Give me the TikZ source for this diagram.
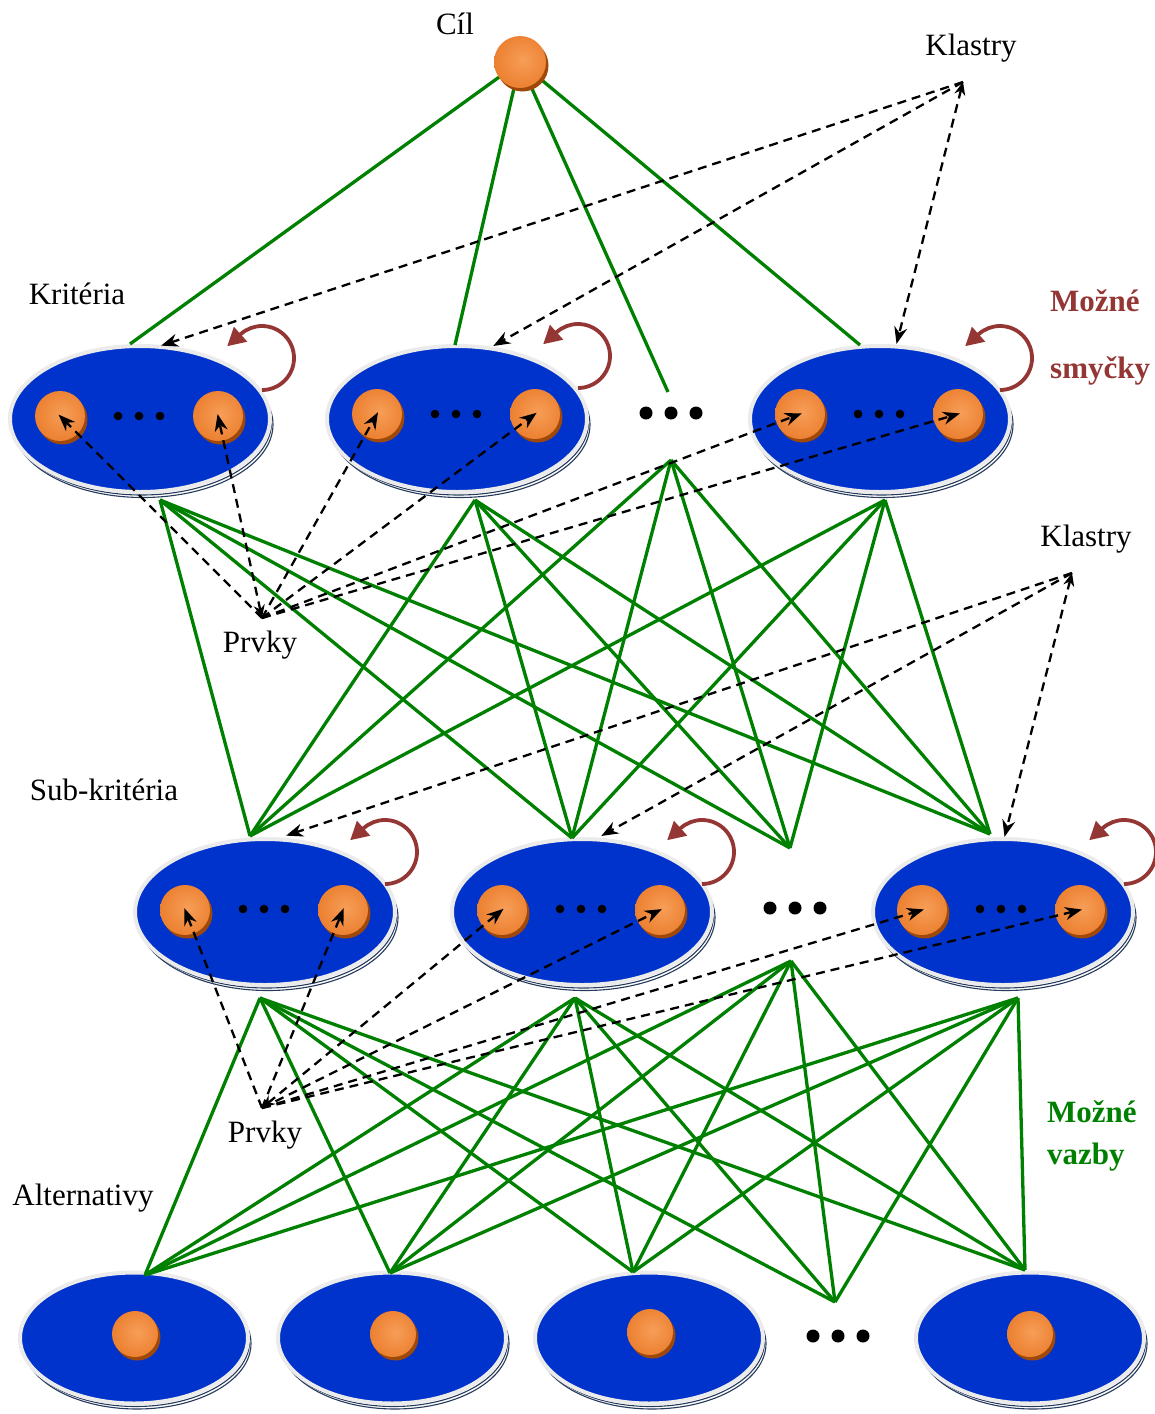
\documentclass[tikz,border=0pt]{standalone}
\usepackage{fontspec}
\setmainfont{Liberation Serif}
\usetikzlibrary{arrows.meta,shapes.geometric,shadows}

\definecolor{platblue}{RGB}{0,51,204}
\definecolor{rimshade}{RGB}{38,58,92}
\definecolor{linkgreen}{RGB}{0,128,0}
\definecolor{loopbrown}{RGB}{148,54,52}
\definecolor{orbin}{RGB}{247,158,88}
\definecolor{orbout}{RGB}{228,108,22}
\definecolor{orbdark}{RGB}{158,72,10}

\pgfdeclareradialshading{orbshade}{\pgfpoint{3bp}{2bp}}{%
  color(0bp)=(orbin); color(20bp)=(orbin!55!orbout); color(46bp)=(orbout); color(100bp)=(orbout)}

\tikzset{
  platter/.style={ellipse, inner sep=0pt, fill=platblue, draw=white!92!black, line width=4pt,
    copy shadow={shadow xshift=3pt, shadow yshift=-5.5pt, fill=white, draw=rimshade, line width=1.1pt},
    copy shadow={shadow xshift=1.6pt, shadow yshift=-3pt, fill=white, draw=rimshade, line width=1.1pt}},
  bigplat/.style={platter, minimum width=260pt, minimum height=146pt},
  smallplat/.style={platter, minimum width=228pt, minimum height=131pt},
  orbnode/.style={circle, inner sep=0pt, minimum size=#1, shade, shading=orbshade,
    copy shadow={shadow xshift=2.5pt, shadow yshift=-3.5pt, fill=orbdark, draw=none}},
  vazba/.style={draw=linkgreen, line width=3.3pt},
  dashref/.style={draw=black, line width=2.3pt, dash pattern=on 9pt off 6pt,
    -{Stealth[length=17pt,width=13pt]}, shorten >=-2pt},
  bothref/.style={dashref, {Stealth[length=13pt,width=11pt]}-{Stealth[length=17pt,width=13pt]}},
  selfloop/.style={draw=loopbrown, line width=3.8pt, -{Triangle[length=18pt,width=19pt]}},
  lbl/.style={inner sep=0pt, font=\fontsize{31}{36}\selectfont},
  hint/.style={inner sep=0pt, anchor=west, font=\fontsize{31}{36}\selectfont\bfseries},
}

\begin{document}
\begin{tikzpicture}[x=1pt, y=-1pt]
\useasboundingbox (0,0) rectangle (1155,1414);
\fill[white] (0,0) rectangle (1155,1414);

% ---- cluster platters ----
\node[bigplat] (k1) at (140,419) {};
\node[bigplat] (k2) at (457,419) {};
\node[bigplat] (k3) at (880,419) {};
\node[bigplat] (s1) at (265,912) {};
\node[bigplat] (s2) at (582,912) {};
\node[bigplat] (s3) at (1003,912) {};
\node[smallplat] (a1) at (134,1338) {};
\node[smallplat] (a2) at (392,1338) {};
\node[smallplat] (a3) at (649,1338) {};
\node[smallplat] (a4) at (1030,1338) {};

% ---- link end points ----
\coordinate (gc) at (520,62);
\coordinate (k1t) at (130,344);
\coordinate (k2t) at (455,345);
\coordinate (kdt) at (668,392);
\coordinate (k3t) at (860,345);

\coordinate (k1b) at (160,500);
\coordinate (k2b) at (475,500);
\coordinate (kdb) at (671,460);
\coordinate (k3b) at (885,500);
\coordinate (s1t) at (250,836);
\coordinate (s2t) at (572,838);
\coordinate (sdt) at (790,848);
\coordinate (s3t) at (990,834);

\coordinate (s1b) at (260,998);
\coordinate (s2b) at (575,998);
\coordinate (sdb) at (791,961);
\coordinate (s3b) at (1018,998);
\coordinate (a1t) at (145,1275);
\coordinate (a2t) at (390,1273);
\coordinate (a3t) at (633,1272);
\coordinate (adt) at (835,1302);
\coordinate (a4t) at (1025,1270);

% ---- green links ----
\foreach \t in {k1t,k2t,kdt,k3t} \draw[vazba] (gc) -- (\t);
\foreach \a in {k1b,k2b,kdb,k3b}
  \foreach \b in {s1t,s2t,sdt,s3t} \draw[vazba] (\a) -- (\b);
\foreach \a in {s1b,s2b,sdb,s3b}
  \foreach \b in {a1t,a2t,a3t,adt,a4t} \draw[vazba] (\a) -- (\b);

% ---- element orbs ----
\node[orbnode=52pt] (goal) at (gc) {};
\node[orbnode=50pt] (k1l) at (60,416) {};
\node[orbnode=50pt] (k1r) at (218,416) {};
\node[orbnode=50pt] (k2l) at (377,414) {};
\node[orbnode=50pt] (k2r) at (535,414) {};
\node[orbnode=50pt] (k3l) at (800,414) {};
\node[orbnode=50pt] (k3r) at (958,414) {};
\node[orbnode=50pt] (s1l) at (185,910) {};
\node[orbnode=50pt] (s1r) at (343,910) {};
\node[orbnode=50pt] (s2l) at (502,910) {};
\node[orbnode=50pt] (s2r) at (660,910) {};
\node[orbnode=50pt] (s3l) at (922,910) {};
\node[orbnode=50pt] (s3r) at (1080,910) {};
\node[orbnode=46pt] (a1o) at (135,1334) {};
\node[orbnode=46pt] (a2o) at (393,1334) {};
\node[orbnode=46pt] (a3o) at (650,1332) {};
\node[orbnode=46pt] (a4o) at (1030,1334) {};

% ---- ellipsis dots ----
\foreach \cx/\cy in {139/416, 456/414, 879/414, 264/909, 581/909, 1001/909}
  \foreach \dx in {-21,0,21} \fill (\cx+\dx,\cy) circle (4.3pt);
\foreach \cx/\cy in {671/413, 795/908, 838/1336}
  \foreach \dx in {-25,0,25} \fill (\cx+\dx,\cy) circle (6.5pt);

% ---- cluster / element references ----
\coordinate (kl1) at (963,82);
\coordinate (kl2) at (1072,573);
\coordinate (pr1) at (262,618);
\coordinate (pr2) at (262,1108);
\coordinate (k1in) at (163,345);
\coordinate (k2in) at (495,345);
\coordinate (k3in) at (897,342);
\coordinate (s1in) at (288,835);
\coordinate (s2in) at (603,835);
\coordinate (s3in) at (1005,835);

\draw[dashref] (kl1) -- (k1in);
\draw[dashref] (kl1) -- (k2in);
\draw[bothref] (kl1) -- (k3in);
\draw[dashref] (kl2) -- (s1in);
\draw[dashref] (kl2) -- (s2in);
\draw[bothref] (kl2) -- (s3in);

\draw[dashref] (pr1) -- (k1l.center);
\draw[bothref] (pr1) -- (k1r.center);
\foreach \t in {k2l,k2r,k3l,k3r} \draw[dashref] (pr1) -- (\t.center);
\draw[dashref] (pr2) -- (s1l.center);
\draw[dashref] (pr2) -- (s1r.center);
\draw[bothref] (pr2) -- (s2l.center);
\foreach \t in {s2r,s3l,s3r} \draw[dashref] (pr2) -- (\t.center);

% ---- self loops: arc from the platter rim round to the upper left, tip along the tangent ----
\foreach \n/\lx/\ly in {lk1/262/358, lk2/578/356, lk3/1000/358, ls1/385/852, ls2/702/852, ls3/1124/852} {
  \coordinate (\n) at (\lx,\ly);
  \draw[selfloop] (\n) ++(0,32) arc[start angle=90, end angle=-132, radius=32] -- ++(-13.4,12);
}

% ---- labels ----
\node[lbl] (tcil) at (455,24) {Cíl};
\node[lbl] (tkl1) at (971,48) {Klastry};
\node[lbl] (tkrit) at (77,294) {Kritéria};
\node[hint, text=loopbrown] (tmoz1) at (1050,301) {Možné};
\node[hint, text=loopbrown] (tsmy) at (1050,371) {smyčky};
\node[lbl] (tkl2) at (1086,539) {Klastry};
\node[lbl] (tpr1) at (260,645) {Prvky};
\node[lbl] (tsub) at (104,790) {Sub-kritéria};
\node[lbl] (tpr2) at (265,1135) {Prvky};
\node[lbl] (talt) at (83,1198) {Alternativy};
\node[hint, text=linkgreen] (tmoz2) at (1047,1112) {Možné};
\node[hint, text=linkgreen] (tvaz) at (1047,1157) {vazby};
\end{tikzpicture}
\end{document}
